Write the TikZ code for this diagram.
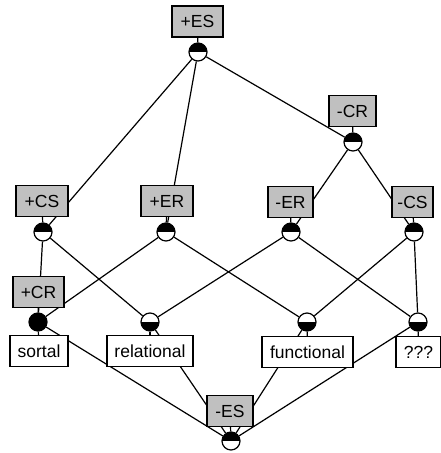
\documentclass[tikz,border=0pt]{standalone}
\usepackage{fontspec}
\setmainfont{Liberation Sans}
\definecolor{boxgray}{RGB}{192,192,192}
\pgfdeclarelayer{bg}
\pgfdeclarelayer{edges}
\pgfsetlayers{bg,edges,main}
\tikzset{
  lab/.style={draw, line width=1.2pt, minimum height=31pt, inner xsep=0pt, inner ysep=0pt,
    font=\fontsize{17.5}{19}\selectfont, anchor=center},
  attlab/.style={lab, fill=boxgray},
  objlab/.style={lab, fill=white},
  cpt/.style={circle, draw, line width=1.2pt, minimum size=18pt, inner sep=0pt, fill=white},
  att/.style={cpt, path picture={\fill[black] (path picture bounding box.west) rectangle (path picture bounding box.north east);}},
  obj/.style={cpt, path picture={\fill[black] (path picture bounding box.south west) rectangle (path picture bounding box.east);}},
  full/.style={cpt, fill=black},
  edge/.style={line width=1.2pt}
}
\begin{document}
\begin{tikzpicture}[x=1pt,y=-1pt]
\begin{pgfonlayer}{bg}
\fill[white] (0,0) rectangle (440,453);
\end{pgfonlayer}
\useasboundingbox (0,0) rectangle (440,453);
% concept circles
\node[att]  (cTop) at (198,52) {};
\node[att]  (cCRm) at (353,142) {};
\node[att]  (cCSp) at (43,232) {};
\node[att]  (cERp) at (166,232) {};
\node[att]  (cERm) at (291,232) {};
\node[att]  (cCSm) at (414,232) {};
\node[full] (cSort) at (38,322) {};
\node[obj]  (cRel) at (150,322) {};
\node[obj]  (cFun) at (307,322) {};
\node[obj]  (cQ) at (418,322) {};
\node[att]  (cBot) at (231,441) {};
% attribute labels
\node[attlab, minimum width=51pt] (lESp) at (197.5,21.5) {+ES};
\node[attlab, minimum width=47pt] (lCRm) at (352.5,111) {-CR};
\node[attlab, minimum width=52pt] (lCSp) at (42,201) {+CS};
\node[attlab, minimum width=52pt] (lERp) at (167,201) {+ER};
\node[attlab, minimum width=45pt] (lERm) at (290.5,202) {-ER};
\node[attlab, minimum width=41pt] (lCSm) at (412.5,202) {-CS};
\node[attlab, minimum width=51pt] (lCRp) at (38.5,292) {+CR};
\node[attlab, minimum width=46pt] (lESm) at (230,411) {-ES};
% object labels
\node[objlab, minimum width=58pt] (lSort) at (39,351) {sortal};
\node[objlab, minimum width=86pt] (lRel) at (150,351) {relational};
\node[objlab, minimum width=91pt] (lFun) at (307.5,352) {functional};
\node[objlab, minimum width=45pt] (lQ) at (418.5,352) {???};
\begin{pgfonlayer}{edges}
\draw[edge] (lESp) -- (cTop);
\draw[edge] (lCRm) -- (cCRm);
\draw[edge] (lCSp) -- (cCSp);
\draw[edge] (lERp) -- (cERp);
\draw[edge] (lERm) -- (cERm);
\draw[edge] (lCSm) -- (cCSm);
\draw[edge] (lCRp) -- (cSort);
\draw[edge] (lESm) -- (cBot);
\draw[edge] (cSort) -- (lSort);
\draw[edge] (cRel) -- (lRel);
\draw[edge] (cFun) -- (lFun);
\draw[edge] (cQ) -- (lQ);
\draw[edge] (cTop) -- (cCSp);
\draw[edge] (cTop) -- (cERp);
\draw[edge] (cTop) -- (cCRm);
\draw[edge] (cCRm) -- (cERm);
\draw[edge] (cCRm) -- (cCSm);
\draw[edge] (cCSp) -- (cSort);
\draw[edge] (cCSp) -- (cRel);
\draw[edge] (cERp) -- (cSort);
\draw[edge] (cERp) -- (cFun);
\draw[edge] (cERm) -- (cRel);
\draw[edge] (cERm) -- (cQ);
\draw[edge] (cCSm) -- (cFun);
\draw[edge] (cCSm) -- (cQ);
\draw[edge] (cSort) -- (cBot);
\draw[edge] (cRel) -- (cBot);
\draw[edge] (cFun) -- (cBot);
\draw[edge] (cQ) -- (cBot);
\end{pgfonlayer}
\end{tikzpicture}
\end{document}
